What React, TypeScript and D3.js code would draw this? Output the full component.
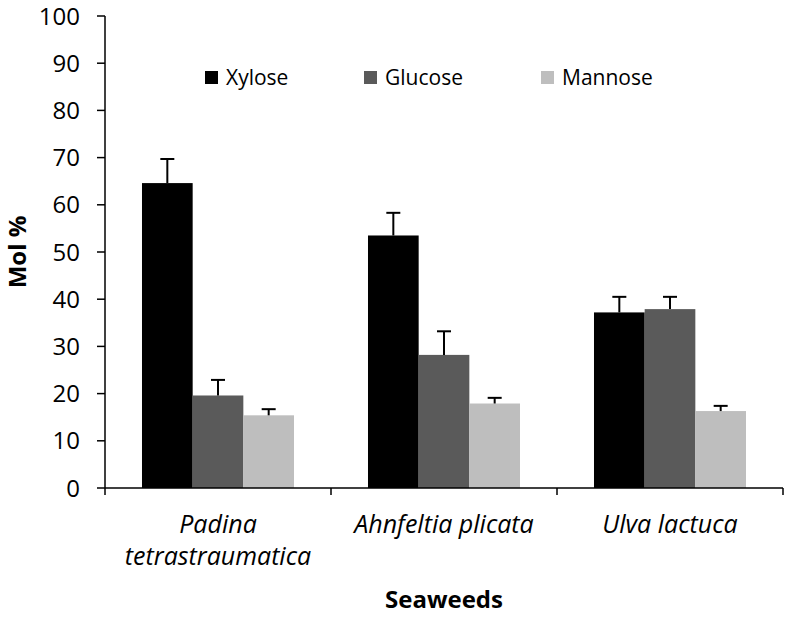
import React from "react";
import * as d3 from "d3";

const categories = ["Padina tetrastraumatica", "Ahnfeltia plicata", "Ulva lactuca"];
const categoryLines = [["Padina", "tetrastraumatica"], ["Ahnfeltia plicata"], ["Ulva lactuca"]];
const seriesNames = ["Xylose", "Glucose", "Mannose"];
const xylose = [64.6, 53.5, 37.2];
const xyloseErr = [5.1, 4.8, 3.3];
const glucose = [19.6, 28.2, 37.9];
const glucoseErr = [3.3, 5.0, 2.6];
const mannose = [15.4, 17.9, 16.3];
const mannoseErr = [1.3, 1.2, 1.1];
const yTicks = [0, 10, 20, 30, 40, 50, 60, 70, 80, 90, 100];
const colors = ["#000000", "#5a5a5a", "#bebebe"];

const values = [xylose, glucose, mannose];
const errors = [xyloseErr, glucoseErr, mannoseErr];

export default function App() {
  const W = 786, H = 617;
  const left = 105, right = 783, top = 16, bottom = 488;
  const font = "'Open Sans', sans-serif";
  const x = d3.scaleBand<string>().domain(categories).range([left, right]).paddingInner(0).paddingOuter(0);
  const xs = d3.scaleBand<string>().domain(seriesNames).range([0, x.bandwidth()]).paddingInner(0).paddingOuter(0.73);
  const y = d3.scaleLinear().domain([0, 100]).range([bottom, top]);
  const boundaries = [...categories.map((c) => x(c) as number), right];
  const legendX = [205, 364, 541];

  return (
    <svg width={W} height={H} style={{ position: "absolute", left: 0, top: 0, background: "#fff" }} fontFamily={font}>
      <rect x={0} y={0} width={W} height={H} fill="#fff" />
      {/* bars */}
      {categories.map((c, ci) =>
        seriesNames.map((s, si) => {
          const bx = (x(c) as number) + (xs(s) as number);
          const v = values[si][ci];
          const e = errors[si][ci];
          const cx = bx + xs.bandwidth() / 2;
          return (
            <g key={c + s}>
              <rect x={bx} y={y(v)} width={xs.bandwidth()} height={y(0) - y(v)} fill={colors[si]} />
              <line x1={cx} x2={cx} y1={y(v)} y2={y(v + e)} stroke="#000" strokeWidth={2} />
              <line x1={cx - 7} x2={cx + 7} y1={y(v + e)} y2={y(v + e)} stroke="#000" strokeWidth={2} />
            </g>
          );
        })
      )}
      {/* y axis */}
      <line x1={left} x2={left} y1={top} y2={bottom} stroke="#000" strokeWidth={1.5} />
      {yTicks.map((t) => (
        <g key={t}>
          <line x1={left - 8} x2={left} y1={y(t)} y2={y(t)} stroke="#000" strokeWidth={1.5} />
          <text x={left - 25} y={y(t)} dy="0.36em" textAnchor="end" fontSize={24} fill="#000">
            {t}
          </text>
        </g>
      ))}
      {/* x axis */}
      <line x1={left} x2={right} y1={bottom} y2={bottom} stroke="#000" strokeWidth={1.5} />
      {boundaries.map((b, i) => (
        <line key={i} x1={b} x2={b} y1={bottom} y2={bottom + 7} stroke="#000" strokeWidth={1.5} />
      ))}
      {categories.map((c, ci) => (
        <text key={c} x={(x(c) as number) + x.bandwidth() / 2} y={533} textAnchor="middle" fontSize={25} fontStyle="italic" fill="#000">
          {categoryLines[ci].map((ln, li) => (
            <tspan key={li} x={(x(c) as number) + x.bandwidth() / 2} y={533 + li * 32}>
              {ln}
            </tspan>
          ))}
        </text>
      ))}
      {/* axis titles */}
      <text x={(left + right) / 2} y={608} textAnchor="middle" fontSize={24} fontWeight="bold" fill="#000">
        Seaweeds
      </text>
      <text transform={`translate(26, ${(top + bottom) / 2}) rotate(-90)`} textAnchor="middle" fontSize={24} fontWeight="bold" fill="#000">
        Mol %
      </text>
      {/* legend */}
      {seriesNames.map((s, si) => (
        <g key={s}>
          <rect x={legendX[si]} y={71} width={13} height={13} fill={colors[si]} />
          <text x={legendX[si] + 21} y={85} fontSize={21} fill="#000">
            {s}
          </text>
        </g>
      ))}
    </svg>
  );
}
